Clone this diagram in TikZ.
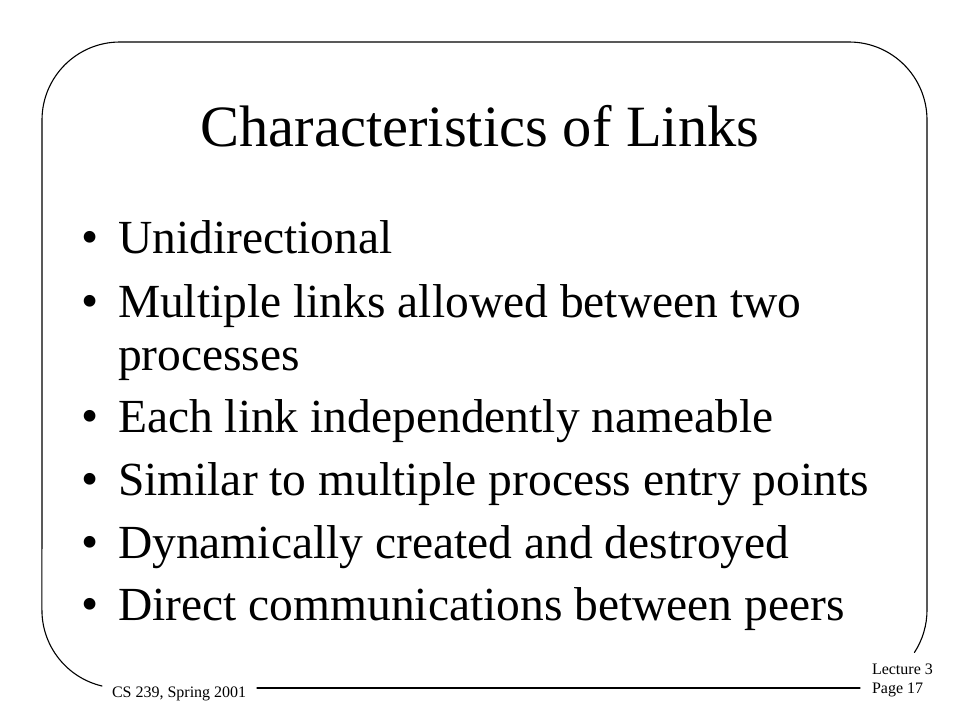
\documentclass[tikz,border=0pt]{standalone}
\usepackage{fontspec}
\setmainfont{Liberation Serif}
\begin{document}
\begin{tikzpicture}[x=1pt,y=-1pt,
  every node/.style={inner sep=0pt,outer sep=0pt},
  titletext/.style={anchor=base,font=\fontsize{58.5}{66}\selectfont},
  bullettext/.style={anchor=base west,font=\fontsize{47.5}{54}\selectfont,align=left},
  dot/.style={anchor=base,font=\fontsize{49}{54}\selectfont},
  foot/.style={font=\fontsize{16}{19}\selectfont},
  frame/.style={line width=1.1pt,line cap=round}]
\useasboundingbox[fill=white] (0,0) rectangle (960,720);
% frame
\coordinate (f1) at (102,686);
\coordinate (f2) at (257,688);
\coordinate (f3) at (860,688);
\draw[frame] (f1) arc[start angle=103.3,end angle=180,radius=78] -- (42,120)
  arc[start angle=180,end angle=270,radius=78] -- (849,42)
  arc[start angle=270,end angle=360,radius=78] -- (927,610)
  arc[start angle=0,end angle=33,radius=78];
\draw[frame] (f2) -- (f3);
% title
\node[titletext] (title) at (480,146) {Characteristics of Links};
% bullets
\node[dot] (d1) at (90,253) {•};
\node[bullettext] (b1) at (118,253) {Unidirectional};
\node[dot] (d2) at (90,317) {•};
\node[bullettext] (b2) at (118,317) {Multiple links allowed between two};
\node[bullettext] (b2b) at (118,370) {processes};
\node[dot] (d3) at (90,432) {•};
\node[bullettext] (b3) at (118,432) {Each link independently nameable};
\node[dot] (d4) at (90,495) {•};
\node[bullettext] (b4) at (118,495) {Similar to multiple process entry points};
\node[dot] (d5) at (90,558) {•};
\node[bullettext] (b5) at (118,558) {Dynamically created and destroyed};
\node[dot] (d6) at (90,620) {•};
\node[bullettext] (b6) at (118,620) {Direct communications between peers};
% footer
\node[foot,anchor=base west] (cs) at (112,697) {CS 239, Spring 2001};
\node[foot,anchor=base west] (lec) at (872,674) {Lecture 3};
\node[foot,anchor=base west] (pg) at (872,693) {Page 17};
\end{tikzpicture}
\end{document}
